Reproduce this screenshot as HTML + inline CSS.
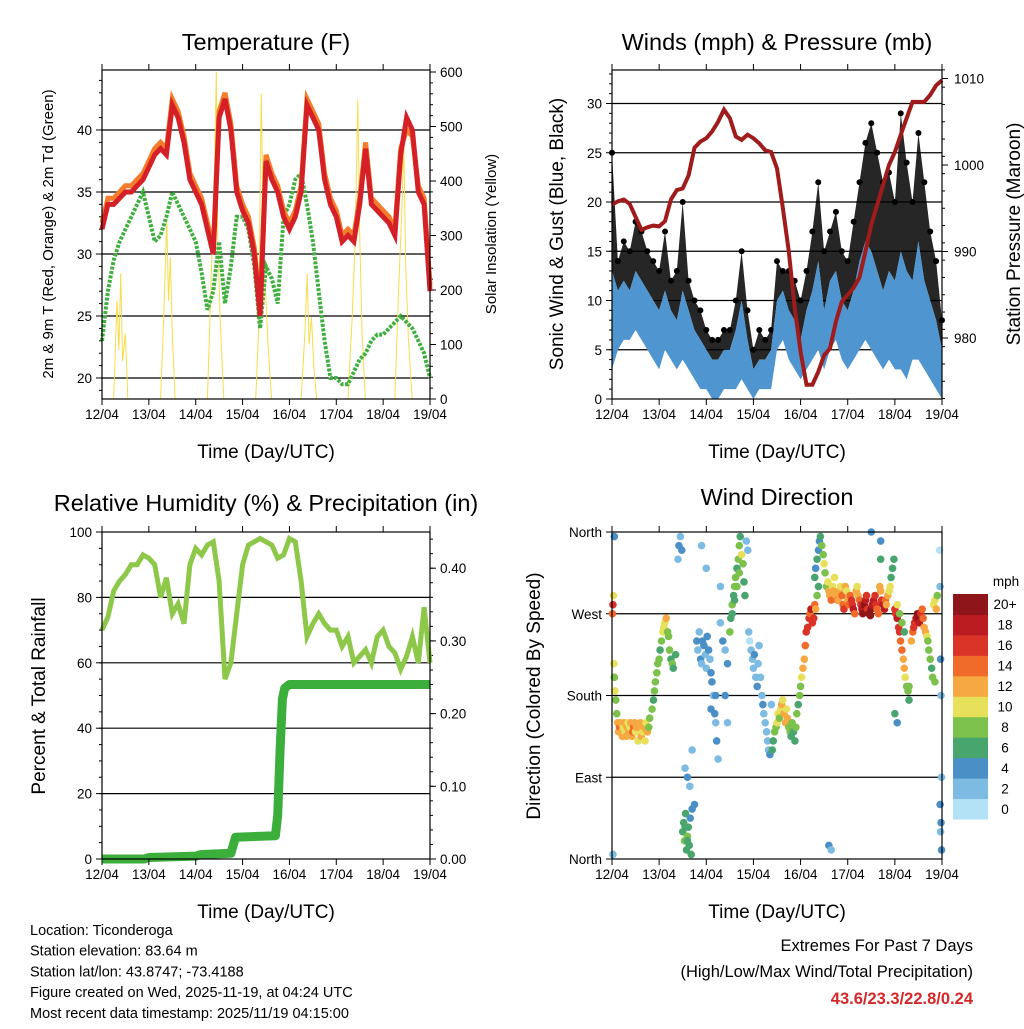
<!DOCTYPE html>
<html><head><meta charset="utf-8"><style>
body{margin:0;background:#fff;}
svg text{font-family:"Liberation Sans",sans-serif;fill:#000;}
</style></head><body>
<svg id="c" width="1024" height="1024" viewBox="0 0 1024 1024"></svg>
<script>
// ---------- data ----------
const days = ["12/04","13/04","14/04","15/04","16/04","17/04","18/04","19/04"];
const t3 = []; for (let i=0;i<=56;i++) t3.push(i/8);
const tempRed = [32,34,34,34.5,35,35,35.5,36, 37,38,38.5,38,42,41,39,36, 35,34,32,30,41,42.5,40,35, 33.5,32.5,30,25,37.5,36,35,33, 32,33,35,42,41,40,36,34, 33,31,31.5,31,34,38.5,34,33.5, 33,32.5,31.5,38,41,40,35,34, 27];
const tempOrange = [32.5,34.5,34.5,35,35.5,35.5,36,36.5, 37.5,38.5,39,38.5,42.5,41.5,39.5,36.5, 35.5,34.5,32.5,30.5,41.5,43,40.5,35.5, 34,33,30.5,25.5,38,36.5,35.5,33.5, 32.5,33.5,35.5,42.5,41.5,40.5,36.5,34.5, 33.5,31.5,32,31.5,34.5,39,34.5,34, 33.5,33,32,38.5,40,39.5,35.5,34.5, 27.5];
const dewGreen = [23,27,29.5,31,32,33,34,35, 33,31,31.5,33,35,34,33,32, 31,28.5,25.5,27,31,26,29,33, 33,32,29,24,29,28,26,33, 34,36,36.5,34,31,27,23,20, 20,19.5,19.5,20.5,21.5,22,23,23.5, 23.5,24,24.5,25,24.5,24,23,22, 20];
const solarT = [0.25,0.32,0.36,0.40,0.44,0.50,0.55, 1.25,1.32,1.38,1.42,1.46,1.50,1.56, 2.25,2.32,2.40,2.44,2.47,2.52,2.60, 3.28,3.34,3.40,3.45,3.50,3.55,3.62, 4.25,4.33,4.38,4.42,4.47,4.52,4.58, 5.25,5.34,5.40,5.46,5.50,5.55,5.62, 6.25,6.33,6.40,6.44,6.48,6.54,6.62];
const solarV = [0,180,90,230,70,120,0, 0,160,330,180,260,120,0, 0,190,420,600,300,150,0, 0,120,560,260,180,90,0, 0,120,230,100,150,60,0, 0,150,280,550,300,120,0, 0,200,350,470,250,110,0];
const pressure = [995.4,995.8,996,995.5,994,992.5,992.8,993, 992.9,993.5,996,997.1,997.3,998.8,1002,1002.7, 1003.1,1003.9,1005,1006.4,1005.4,1003.3,1002.9,1003.5, 1003.1,1002.5,1001.7,1001.5,999.6,995,990,983.5, 978.4,974.6,974.6,976.1,978,978.8,981.9,984.2, 985,985.8,987,990,993.1,995.4,997.7,1000, 1001.5,1003.5,1005.4,1007.3,1007.3,1007.3,1008.1,1009.2, 1009.8];
const windLo = [3,5,6,6,7,6,5,4, 3,5,4,3,4,3,2,1, 1,0,0,1,1,1,2,1, 0,1,1,1,5,6,4,3, 2,3,4,5,3,5,6,4, 3,4,5,6,5,4,3,4, 3,3,2,4,4,3,2,1, 0];
const windHi = [13,11,12,11,13,12,11,10, 9,11,9,8,11,9,7,6, 5,4,4,5,5,7,10,6, 3,4,4,5,10,11,9,8, 6,9,11,14,9,12,13,10, 9,11,14,16,15,13,11,13, 12,15,13,12,16,12,10,8, 5];
const gustHi = [25,14,16,15,18,17,15,14, 13,17,12,13,20,12,10,9, 7,6,6,7,7,10,15,9, 5,7,6,7,14,13,13,12, 10,13,17,22,15,17,19,15, 14,18,22,26,28,25,22,23, 20,29,24,20,27,22,17,14, 8];
const rh = [70,74,82,85,87,90,90,93, 92,90,80,86,75,78,72,90, 95,93,96,97,85,55,60,75, 90,96,97,98,97,96,92,93, 98,97,85,68,72,75,72,70, 70,65,68,60,62,64,60,68, 70,65,63,58,62,68,60,77, 60];
const rainT = [0,0.9,1.0,2.0,2.1,2.75,2.85,3.7,3.75,3.8,3.85,3.9,4.0,7.0];
const rainV = [0,0,0.002,0.004,0.006,0.008,0.03,0.032,0.06,0.15,0.22,0.235,0.24,0.24];
const dirT = [
0.01,0.02,0.03,0.04,0.05,0.06,0.08,0.1,0.12,0.14,
0.16,0.18,0.2,0.22,0.24,0.26,0.28,0.3,0.32,0.34,
0.36,0.38,0.4,0.42,0.44,0.46,0.48,0.5,0.52,0.55,
0.58,0.6,0.62,0.65,0.68,0.7,0.72,0.75,0.78,0.8,
0.85,0.88,0.9,0.92,0.95,0.97,1.0,1.02,1.05,1.08,
1.1,1.12,1.15,1.18,1.2,1.22,1.25,1.28,1.3,1.35,
1.4,1.42,1.45,1.48,1.5,1.52,1.54,1.56,1.58,1.6,
1.62,1.64,1.66,1.68,1.7,1.55,1.6,1.65,1.7,1.75,
1.8,1.82,1.85,1.88,1.9,1.92,1.95,1.98,2.0,2.02,
2.05,2.08,2.1,2.12,2.15,2.18,2.2,2.22,2.25,2.3,
2.35,2.4,2.45,2.2,2.1,1.9,2.0,2.3,2.4,2.45,
2.5,2.52,2.55,2.58,2.6,2.62,2.65,2.68,2.7,2.72,
2.55,2.6,2.65,2.7,2.75,2.78,2.8,2.82,2.85,2.88,
2.9,2.92,2.95,2.98,3.0,3.02,3.05,3.08,3.1,3.12,
3.15,3.18,3.2,3.22,3.25,3.28,3.3,3.32,3.35,3.38,
3.4,3.42,3.45,3.48,3.5,3.52,3.55,3.58,3.6,3.62,
3.65,3.68,3.7,3.72,3.75,3.78,3.8,3.82,3.85,3.88,
3.9,3.92,3.95,3.98,4.0,4.02,4.05,4.08,4.1,4.12,
4.15,4.18,4.2,4.22,4.25,4.28,4.3,4.32,4.35,4.38,
4.3,4.32,4.35,4.38,4.4,4.42,4.45,4.48,4.5,4.52,
4.55,4.58,4.6,4.62,4.65,4.68,4.7,4.72,4.75,4.78,
4.8,4.82,4.85,4.88,4.9,4.92,4.95,4.98,5.0,5.02,
5.05,5.08,5.1,5.12,5.15,5.18,5.2,5.22,5.25,5.28,
5.3,5.32,5.35,5.38,5.4,5.42,5.45,5.48,5.5,5.52,
5.55,5.58,5.6,5.62,5.65,5.68,5.7,5.72,5.75,5.78,
5.8,5.82,5.85,5.88,5.9,5.92,5.95,5.98,5.7,5.5,
6.0,6.02,6.05,6.08,6.1,6.12,6.15,6.18,6.2,6.22,
6.25,6.28,6.3,6.05,6.1,6.15,6.2,6.0,6.05,6.3,
6.35,6.38,6.4,6.42,6.45,6.48,6.5,6.52,6.55,6.58,
6.6,6.62,6.65,6.68,6.7,6.72,6.75,6.78,6.8,6.85,
6.82,6.85,6.88,6.9,6.95,6.96,6.97,6.98,6.99,6.96,
6.97,6.98,6.99,0.05,0.02,1.55,1.6,4.6,4.65,5.7];
const dirV = [
270,280,290,215,200,185,175,160,150,140,
145,150,140,135,145,150,140,135,145,150,
140,145,150,135,140,145,150,140,145,130,
145,150,135,140,145,130,150,140,145,155,
165,175,185,195,205,215,220,230,240,250,
255,260,265,250,245,230,220,215,210,225,
330,345,355,340,30,40,20,50,10,25,
35,15,45,5,55,100,90,80,120,60,
240,230,250,220,215,240,235,225,210,245,
230,220,205,195,180,160,150,130,110,260,
240,230,215,180,165,345,320,300,180,150,
250,265,280,290,300,310,320,330,345,355,
270,285,300,315,335,325,305,290,350,340,
250,240,230,220,210,225,200,190,215,235,
200,180,170,160,150,140,130,120,115,170,
120,130,140,145,150,160,155,165,170,175,
160,150,165,155,145,140,135,150,140,130,
145,160,170,180,190,200,210,220,235,250,
255,265,270,275,260,265,280,275,290,300,
310,320,330,340,350,355,345,335,325,315,
300,305,295,290,285,300,295,310,290,285,
285,295,300,290,280,275,300,295,285,280,
290,285,280,275,270,295,300,290,285,280,
275,270,280,285,290,275,270,268,275,280,
285,290,280,275,270,300,295,285,280,275,
285,280,290,295,300,310,320,330,350,360,
275,270,265,255,250,240,230,220,210,200,
190,185,175,280,270,260,250,160,150,190,
240,250,255,260,265,270,265,260,270,275,
265,255,250,245,240,230,220,210,200,195,
280,285,275,290,340,300,220,180,90,60,
30,40,10,355,5,35,20,15,10,330];
const dirS = [
14,16,10,10,9,11,8,9,12,13,
15,12,13,12,11,12,11,13,12,10,
12,11,13,12,15,14,12,11,12,10,
12,13,12,11,12,10,11,12,9,8,
8,7,8,9,8,9,8,7,9,10,
10,11,12,8,9,8,7,8,7,6,
3,4,3,4,7,6,8,7,6,8,
7,6,5,7,4,3,4,3,2,4,
4,3,2,4,3,4,4,2,3,4,
4,3,4,4,3,4,3,4,3,2,
4,3,4,5,4,3,2,2,4,2,
8,7,8,6,9,8,7,9,8,7,
6,7,8,9,10,8,7,6,3,2,
2,1,3,2,3,4,2,4,3,2,
3,2,4,3,2,2,3,2,4,3,
6,7,8,9,10,11,9,11,12,10,
13,12,11,12,9,8,7,8,6,7,
8,9,7,8,9,10,12,13,14,16,
17,16,15,18,17,16,14,12,8,7,
6,5,7,4,5,6,8,9,10,8,
9,10,12,13,14,11,12,10,13,14,
12,13,11,14,15,16,12,10,13,14,
15,16,17,18,14,12,11,13,15,17,
18,20,21,19,17,16,20,22,21,19,
18,16,17,15,14,12,13,16,18,19,
14,13,12,11,10,6,7,6,5,4,
16,17,18,17,16,15,14,13,12,10,
9,8,7,10,9,8,7,6,5,8,
12,14,16,17,18,20,21,19,17,15,
14,13,12,10,9,8,8,7,9,8,
10,11,12,9,1,3,4,2,3,4,
3,4,4,4,2,6,7,4,3,7];

// ---------- helpers ----------
const NS="http://www.w3.org/2000/svg";
const svg=document.getElementById('c');
function el(tag,attrs,parent){const e=document.createElementNS(NS,tag);for(const k in attrs)e.setAttribute(k,attrs[k]);(parent||svg).appendChild(e);return e;}
function txt(x,y,s,size,anchor,extra){const e=el('text',Object.assign({x:x,y:y,'font-size':size,'text-anchor':anchor||'middle'},extra||{}));e.textContent=s;return e;}
function grp(name){const g=el('g',{});return g;}
function frame(g,x0,y0,x1,y1){el('rect',{x:x0,y:y0,width:x1-x0,height:y1-y0,fill:'none',stroke:'#000','stroke-width':1.2},g);}
function xAxis(g,x0,x1,y0,y1,yLab){
  const sx=d=>x0+d*(x1-x0)/7;
  for(let d=0;d<=7;d++){
    el('line',{x1:sx(d),x2:sx(d),y1:y1,y2:y1+6,stroke:'#000'},g);
    el('line',{x1:sx(d),x2:sx(d),y1:y0,y2:y0-6,stroke:'#000'},g);
    const t=txt(sx(d),y1+20,days[d],13.5);
    
  }
  const t=txt((x0+x1)/2,yLab,'Time (Day/UTC)',19);
  
}
function poly(g,pts,attrs){return el('polyline',Object.assign({points:pts.map(p=>p[0].toFixed(1)+','+p[1].toFixed(1)).join(' '),fill:'none'},attrs),g);}

// ================= Panel 1 Temperature =================
(function(){
  const g=grp('temperature-panel');
  const X0=102,X1=430,Y0=70,Y1=399;
  const sx=d=>X0+d*(X1-X0)/7;
  const sy=T=>378-(T-20)*12.4;
  const sr=v=>399-v*0.545;
  [20,25,30,35,40].forEach(v=>{el('line',{x1:X0,x2:X1,y1:sy(v),y2:sy(v),stroke:'#000','stroke-width':1.2},g);
    el('line',{x1:X0-6,x2:X0,y1:sy(v),y2:sy(v),stroke:'#000'},g);
    const t=txt(X0-10,sy(v)+5,String(v),13.5,'end');});
  for(let v=19;v<=44;v++) el('line',{x1:X0-3,x2:X0,y1:sy(v),y2:sy(v),stroke:'#000'},g);
  [0,100,200,300,400,500,600].forEach(v=>{el('line',{x1:X1,x2:X1+6,y1:sr(v),y2:sr(v),stroke:'#000'},g);
    const t=txt(X1+10,sr(v)+5,String(v),13.5,'start');});
  for(let v=0;v<=590;v+=20) el('line',{x1:X1,x2:X1+3,y1:sr(v),y2:sr(v),stroke:'#000'},g);
  const s=poly(g,solarT.map((t,i)=>[sx(t),sr(solarV[i])]),{stroke:'#f7dc4a','stroke-width':1});
  
  const gr=poly(g,t3.map((t,i)=>[sx(t),sy(dewGreen[i])]),{stroke:'#3faf3f','stroke-width':4,'stroke-dasharray':'3 1.5'});
  
  const o=poly(g,t3.map((t,i)=>[sx(t),sy(tempOrange[i])]),{stroke:'#f47c2a','stroke-width':5});
  
  const r=poly(g,t3.map((t,i)=>[sx(t),sy(tempRed[i])]),{stroke:'#d42026','stroke-width':5});
  
  frame(g,X0,Y0,X1,Y1);
  xAxis(g,X0,X1,Y0,Y1,458);
  let t=txt(266,50,'Temperature (F)',23.5);
  t=txt(0,0,'2m & 9m T (Red, Orange) & 2m Td (Green)',15,'middle',{transform:'translate(53,234) rotate(-90)'});
  t=txt(0,0,'Solar Insolation (Yellow)',15,'middle',{transform:'translate(496,234) rotate(-90)'});
})();

// ================= Panel 2 Winds =================
(function(){
  const g=grp('winds-panel');
  const X0=612,X1=942,Y0=70,Y1=399;
  const sx=d=>X0+d*(X1-X0)/7;
  const sy=w=>399-w*9.85;
  const sp=p=>338-(p-980)*8.65;
  [5,10,15,20,25,30].forEach(v=>el('line',{x1:X0,x2:X1,y1:sy(v),y2:sy(v),stroke:'#000','stroke-width':1.2},g));
  [0,5,10,15,20,25,30].forEach(v=>{el('line',{x1:X0-6,x2:X0,y1:sy(v),y2:sy(v),stroke:'#000'},g);
    const t=txt(X0-10,sy(v)+5,String(v),13.5,'end');});
  for(let v=0;v<=33;v++) el('line',{x1:X0-3,x2:X0,y1:sy(v),y2:sy(v),stroke:'#000'},g);
  [980,990,1000,1010].forEach(v=>{el('line',{x1:X1,x2:X1+6,y1:sp(v),y2:sp(v),stroke:'#000'},g);
    const t=txt(X1+12,sp(v)+5,String(v),13.5,'start');});
  for(let v=973;v<=1011;v+=2) el('line',{x1:X1,x2:X1+3,y1:sp(v),y2:sp(v),stroke:'#000'},g);
  const gb=el('polygon',{points:t3.map((t,i)=>sx(t).toFixed(1)+','+sy(gustHi[i]).toFixed(1)).concat(t3.slice().reverse().map((t,j)=>{const i=t3.length-1-j;return sx(t).toFixed(1)+','+sy(windHi[i]).toFixed(1);})).join(' '),fill:'#000','fill-opacity':0.85},g);
  
  t3.forEach((t,i)=>{const c=el('circle',{cx:sx(t),cy:sy(gustHi[i]),r:3,fill:'#000'},g);
    });
  const wb=el('polygon',{points:t3.map((t,i)=>sx(t).toFixed(1)+','+sy(windHi[i]).toFixed(1)).concat(t3.slice().reverse().map((t,j)=>{const i=t3.length-1-j;return sx(t).toFixed(1)+','+sy(windLo[i]).toFixed(1);})).join(' '),fill:'#4f95cf'},g);
  
  const p=poly(g,t3.map((t,i)=>[sx(t),sp(pressure[i])]),{stroke:'#a01b1b','stroke-width':4});
  
  frame(g,X0,Y0,X1,Y1);
  xAxis(g,X0,X1,Y0,Y1,458);
  let t=txt(777,50,'Winds (mph) & Pressure (mb)',23.5);
  t=txt(0,0,'Sonic Wind & Gust (Blue, Black)',19,'middle',{transform:'translate(563,234) rotate(-90)'});
  t=txt(0,0,'Station Pressure (Maroon)',19,'middle',{transform:'translate(1020,234) rotate(-90)'});
})();

// ================= Panel 3 RH =================
(function(){
  const g=grp('humidity-panel');
  const X0=102,X1=430,Y0=532,Y1=859;
  const sx=d=>X0+d*(X1-X0)/7;
  const sy=v=>859-v*3.27;
  const sr=v=>859-v*727;
  [20,40,60,80].forEach(v=>el('line',{x1:X0,x2:X1,y1:sy(v),y2:sy(v),stroke:'#000','stroke-width':1.2},g));
  [0,20,40,60,80,100].forEach(v=>{el('line',{x1:X0-6,x2:X0,y1:sy(v),y2:sy(v),stroke:'#000'},g);
    const t=txt(X0-10,sy(v)+5,String(v),13.5,'end');});
  for(let v=0;v<=100;v+=5) el('line',{x1:X0-3,x2:X0,y1:sy(v),y2:sy(v),stroke:'#000'},g);
  [0,0.1,0.2,0.3,0.4].forEach(v=>{el('line',{x1:X1,x2:X1+6,y1:sr(v),y2:sr(v),stroke:'#000'},g);
    const t=txt(X1+10,sr(v)+5,v.toFixed(2),13.5,'start');});
  for(let v=0;v<=0.45;v+=0.02) el('line',{x1:X1,x2:X1+3,y1:sr(v),y2:sr(v),stroke:'#000'},g);
  const h=poly(g,t3.map((t,i)=>[sx(t),sy(rh[i])]),{stroke:'#8dc84b','stroke-width':5});
  
  const r=poly(g,rainT.map((t,i)=>[sx(t),sr(rainV[i])]),{stroke:'#3cae3c','stroke-width':9,'stroke-linejoin':'round'});
  
  frame(g,X0,Y0,X1,Y1);
  xAxis(g,X0,X1,Y0,Y1,918);
  let t=txt(266,511,'Relative Humidity (%) & Precipitation (in)',23.5);
  t=txt(0,0,'Percent & Total Rainfall',19,'middle',{transform:'translate(45,696) rotate(-90)'});
})();

// ================= Panel 4 Wind Direction =================
const binColors=['#b3e1f6','#7dbbe3','#4a8fc6','#49a56e','#7bc14b','#e6e05a','#f6a843','#f06a2a','#da3327','#bb1c22','#8e1519'];
const binLabels=['0','2','4','6','8','10','12','14','16','18','20+'];
(function(){
  const g=grp('wind-direction-panel');
  const X0=612,X1=942,Y0=532,Y1=859;
  const sx=d=>X0+d*(X1-X0)/7;
  const sy=v=>859-v*(327/360);
  [90,180,270].forEach(v=>el('line',{x1:X0,x2:X1,y1:sy(v),y2:sy(v),stroke:'#000','stroke-width':1.2},g));
  [[0,'North'],[90,'East'],[180,'South'],[270,'West'],[360,'North']].forEach(a=>{
    el('line',{x1:X0-6,x2:X0,y1:sy(a[0]),y2:sy(a[0]),stroke:'#000'},g);
    const t=txt(X0-10,sy(a[0])+5,a[1],13.5,'end');});
  const n=Math.min(dirT.length,dirV.length,dirS.length);
  for(let i=0;i<n;i++){const b=Math.max(0,Math.min(10,Math.floor(dirS[i]/2)));
    const c=el('circle',{cx:sx(dirT[i]),cy:sy(dirV[i]),r:3.8,fill:binColors[b]},g);
    }
  frame(g,X0,Y0,X1,Y1);
  xAxis(g,X0,X1,Y0,Y1,918);
  let t=txt(777,505,'Wind Direction',23.5);
  t=txt(0,0,'Direction (Colored By Speed)',19,'middle',{transform:'translate(540,696) rotate(-90)'});
  const lg=grp('speed-colorbar');
  const bh=225/11;
  for(let i=0;i<11;i++){const y=594+(10-i)*bh;
    const r=el('rect',{x:953,y:y,width:35,height:bh+0.5,fill:binColors[i]},lg);
    
    const l=txt(1005,y+bh/2+5,binLabels[i],13.5,'middle');
    }
  t=txt(1006,586,'mph',13.5);
})();

// ================= Footer text =================
(function(){
  const g=grp('footer-info');
  const lines=['Location: Ticonderoga','Station elevation: 83.64 m','Station lat/lon: 43.8747; -73.4188','Figure created on Wed, 2025-11-19, at 04:24 UTC','Most recent data timestamp: 2025/11/19 04:15:00'];
  lines.forEach((s,i)=>{const t=txt(30,935+i*20.7,s,14.5,'start');});
  let t=txt(973,951,'Extremes For Past 7 Days',16.5,'end');
  t=txt(973,977,'(High/Low/Max Wind/Total Precipitation)',16.5,'end');
  t=txt(973,1004,'43.6/23.3/22.8/0.24',16.5,'end',{'font-weight':'bold',style:'fill:#d62728'});
})();
</script>
</body></html>
